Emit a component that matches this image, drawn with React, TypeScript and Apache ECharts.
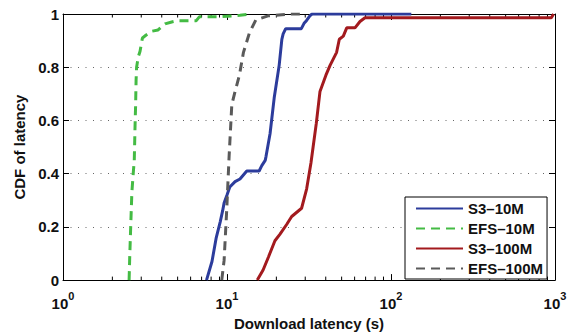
import React, { useEffect, useRef } from "react";
import * as echarts from "echarts";

const FONT = "'Liberation Sans', Arial, Helvetica, sans-serif";

const seriesNames = ["S3–10M", "EFS–10M", "S3–100M", "EFS–100M"];
const seriesColors = ["#2c3c9c", "#44bb44", "#a31a1e", "#5a5a5a"];

const s3_10mX = [7.5, 8.1, 8.6, 9.1, 9.4, 9.6, 10.0, 10.4, 11.2, 12.0, 13.2, 15.7, 16.3, 17.1, 17.3, 18.3, 19.4, 20.8, 21.6, 22.0, 22.8, 28.4, 29.5, 30.5, 32.0, 33.0, 133];
const s3_10mY = [0, 0.07, 0.16, 0.22, 0.26, 0.29, 0.32, 0.35, 0.37, 0.38, 0.41, 0.41, 0.43, 0.45, 0.465, 0.55, 0.685, 0.807, 0.905, 0.925, 0.945, 0.945, 0.965, 0.975, 0.993, 1.0, 1.0];

const efs_10mX = [2.53, 2.55, 2.59, 2.63, 2.68, 2.72, 2.75, 2.77, 2.79, 2.81, 2.88, 2.95, 3.05, 3.2, 3.47, 3.8, 4.19, 4.6, 5.0, 6.5, 6.8, 9.0, 12.0, 14.0];
const efs_10mY = [0, 0.08, 0.21, 0.33, 0.4, 0.45, 0.58, 0.65, 0.75, 0.8, 0.84, 0.86, 0.91, 0.92, 0.935, 0.94, 0.963, 0.97, 0.975, 0.975, 0.99, 0.99, 0.995, 1.0];

const s3_100mX = [15.3, 16.6, 17.9, 19.6, 21.0, 23.1, 24.8, 28.5, 30.6, 32.5, 33.5, 35.0, 36.9, 40.1, 42.5, 46.6, 48.4, 51.2, 53.7, 60.3, 64.7, 69.4, 950, 980];
const s3_100mY = [0, 0.038, 0.087, 0.148, 0.172, 0.209, 0.239, 0.27, 0.343, 0.44, 0.5, 0.587, 0.709, 0.77, 0.807, 0.856, 0.905, 0.917, 0.948, 0.948, 0.972, 0.986, 0.986, 1.0];

const efs_100mX = [9.29, 9.6, 9.95, 10.3, 10.7, 11.2, 11.9, 12.6, 13.7, 15.0, 17.8, 24.2, 30];
const efs_100mY = [0, 0.074, 0.258, 0.465, 0.66, 0.709, 0.77, 0.856, 0.929, 0.978, 0.993, 1.0, 1.0];

const xSeries = [s3_10mX, efs_10mX, s3_100mX, efs_100mX];
const ySeries = [s3_10mY, efs_10mY, s3_100mY, efs_100mY];
const dashed = [false, true, false, true];

const decades = [1, 10, 100];
const minorSteps = [2, 3, 4, 5, 6, 7, 8, 9];
const yTicks = [0, 0.2, 0.4, 0.6, 0.8, 1];

export default function App() {
  const ref = useRef<HTMLDivElement>(null);
  useEffect(() => {
    if (!ref.current) return;
    const chart = echarts.init(ref.current, null, { renderer: "svg" });
    const minorTicks: number[][] = [];
    decades.forEach((d) => minorSteps.forEach((m) => minorTicks.push([d * m, 0])));

    const lineSeries = seriesNames.map((name, i) => ({
      name,
      type: "line",
      xAxisIndex: 0,
      yAxisIndex: 0,
      symbol: "none",
      showSymbol: false,
      data: xSeries[i].map((x, j) => [x, ySeries[i][j]]),
      lineStyle: {
        color: seriesColors[i],
        width: 3,
        type: dashed[i] ? [9, 6] : "solid",
      },
      itemStyle: { color: seriesColors[i] },
      z: 3,
    }));

    const axisCommon = {
      axisLine: { show: true, onZero: false, lineStyle: { color: "#000", width: 1 } },
      axisTick: { show: true, inside: true, length: 6, lineStyle: { color: "#000", width: 1 } },
    };

    const option: any = {
      animation: false,
      backgroundColor: "#fff",
      grid: { left: 63, right: 19, top: 14, bottom: 49, containLabel: false },
      legend: {
        orient: "vertical",
        left: 405,
        top: 197,
        itemWidth: 47,
        itemHeight: 14,
        itemGap: 5,
        padding: [4, 4, 3, 10],
        borderColor: "#000",
        borderWidth: 1,
        borderRadius: 0,
        backgroundColor: "#fff",
        data: seriesNames,
        itemStyle: { opacity: 0 },
        textStyle: { fontFamily: FONT, fontWeight: "bold", fontSize: 15, color: "#111", lineHeight: 15 },
      },
      xAxis: [
        {
          type: "log",
          logBase: 10,
          min: 1,
          max: 1000,
          position: "bottom",
          ...axisCommon,
          splitLine: { show: false },
          axisLabel: {
            margin: 16,
            formatter: (v: number) => `{a|10}{b|${Math.round(Math.log10(v))}}`,
            rich: {
              a: { fontFamily: FONT, fontWeight: "bold", fontSize: 15, color: "#111", lineHeight: 15, verticalAlign: "bottom" },
              b: { fontFamily: FONT, fontWeight: "bold", fontSize: 11, color: "#111", lineHeight: 11, verticalAlign: "bottom", padding: [0, 0, 10, 0] },
            },
          },
          name: "Download latency (s)",
          nameLocation: "middle",
          nameGap: 31,
          nameTextStyle: { fontFamily: FONT, fontWeight: "bold", fontSize: 15, color: "#111" },
        },
        {
          type: "log",
          logBase: 10,
          min: 1,
          max: 1000,
          position: "top",
          ...axisCommon,
          splitLine: { show: false },
          axisLabel: { show: false },
        },
      ],
      yAxis: [
        {
          type: "value",
          min: 0,
          max: 1,
          interval: 0.2,
          position: "left",
          ...axisCommon,
          axisLabel: {
            margin: 4,
            fontFamily: FONT,
            fontWeight: "bold",
            fontSize: 15,
            color: "#111",
            formatter: (v: number) => (v === 0 ? "0" : v === 1 ? "1" : v.toFixed(1)),
          },
          splitLine: { show: true, lineStyle: { color: "#666", width: 1, type: [1, 6.5] } },
          name: "CDF of latency",
          nameLocation: "middle",
          nameGap: 21,
          nameTextStyle: { fontFamily: FONT, fontWeight: "bold", fontSize: 15, color: "#111" },
        },
        {
          type: "value",
          min: 0,
          max: 1,
          interval: 0.2,
          position: "right",
          ...axisCommon,
          axisLabel: { show: false },
          splitLine: { show: false },
        },
      ],
      series: [
        {
          type: "custom",
          xAxisIndex: 0,
          yAxisIndex: 0,
          silent: true,
          clip: false,
          z: 1,
          encode: { x: 0, y: 1 },
          data: minorTicks,
          renderItem: (params: any, api: any) => {
            const b = api.coord([api.value(0), yTicks[0]]);
            const t = api.coord([api.value(0), yTicks[yTicks.length - 1]]);
            const st = { stroke: "#000", lineWidth: 1 };
            return {
              type: "group",
              children: [
                { type: "line", shape: { x1: b[0], y1: b[1], x2: b[0], y2: b[1] - 3.5 }, style: st },
                { type: "line", shape: { x1: t[0], y1: t[1], x2: t[0], y2: t[1] + 3.5 }, style: st },
              ],
            };
          },
        },
        ...lineSeries,
      ],
    };
    chart.setOption(option);
    return () => chart.dispose();
  }, []);
  return <div ref={ref} style={{ position: "fixed", left: 0, top: 0, width: 574, height: 336 }} />;
}
